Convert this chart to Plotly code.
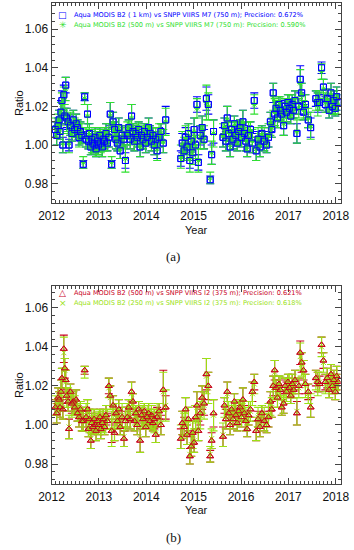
import plotly.graph_objects as go

# ---------------- data ----------------
years = [
    2012.08, 2012.11, 2012.14, 2012.16, 2012.18, 2012.20, 2012.22, 2012.24, 2012.26, 2012.28, 2012.30, 2012.32, 2012.35, 2012.37, 2012.40, 2012.43,
    2012.46, 2012.49, 2012.52, 2012.55, 2012.58, 2012.61, 2012.64, 2012.67, 2012.70, 2012.73,
    2012.76, 2012.78, 2012.80, 2012.83, 2012.85, 2012.87, 2012.90, 2012.92, 2012.94, 2012.97, 2012.99, 2013.02, 2013.04, 2013.07, 2013.09, 2013.12, 2013.15, 2013.18,
    2013.21, 2013.24, 2013.27, 2013.30, 2013.33, 2013.36, 2013.39, 2013.42, 2013.45, 2013.49, 2013.53, 2013.56,
    2013.60, 2013.63, 2013.66, 2013.69, 2013.72, 2013.75, 2013.78, 2013.81, 2013.84, 2013.87, 2013.90, 2013.93, 2013.96, 2013.99, 2014.02, 2014.05, 2014.08, 2014.11, 2014.14, 2014.17, 2014.20, 2014.23, 2014.27, 2014.31, 2014.36, 2014.41,
    2014.73, 2014.76, 2014.80, 2014.83, 2014.86, 2014.89, 2014.92, 2014.95, 2014.98, 2015.01, 2015.04, 2015.07, 2015.10, 2015.14, 2015.18, 2015.22, 2015.27, 2015.31, 2015.35, 2015.38, 2015.42,
    2015.62, 2015.65, 2015.68, 2015.71, 2015.74, 2015.77, 2015.80, 2015.83, 2015.86, 2015.89, 2015.92, 2015.95, 2015.98, 2016.01, 2016.04, 2016.07, 2016.10, 2016.13, 2016.16, 2016.20, 2016.24, 2016.28, 2016.32, 2016.36, 2016.40, 2016.44, 2016.49, 2016.54, 2016.58,
    2016.62, 2016.65, 2016.68, 2016.71, 2016.74, 2016.77, 2016.80, 2016.83, 2016.86, 2016.90, 2016.93, 2016.96, 2016.99, 2017.02, 2017.05, 2017.08, 2017.11, 2017.14, 2017.18, 2017.22, 2017.25, 2017.28, 2017.32, 2017.36, 2017.42, 2017.47,
    2017.58, 2017.62, 2017.66, 2017.70, 2017.74, 2017.78, 2017.82, 2017.86, 2017.90, 2017.93, 2017.96, 2017.99, 2018.02, 2018.05,
]

# (a) Aqua MODIS B2 (1 km) vs SNPP VIIRS M7
ratio_m7_1km = [
    1.008, 1.005, 1.010, 1.013, 1.007, 1.017, 1.023, 1.000, 1.026, 1.015, 1.031, 1.014, 1.012, 1.000, 1.010, 1.006,
    1.013, 1.008, 1.011, 1.009, 1.004, 1.007, 1.005, 0.990, 1.025, 1.003,
    1.016, 1.002, 1.006, 0.999, 1.003, 1.001, 1.000, 1.004, 0.998, 1.002, 1.000, 1.005, 1.001, 0.999, 1.003, 1.002, 1.006, 1.001,
    1.004, 1.016, 0.990, 1.012, 1.008, 1.003, 1.001, 1.009, 0.997, 1.005, 1.003, 0.992,
    1.005, 1.009, 1.003, 1.015, 1.007, 1.002, 1.006, 1.004, 1.008, 0.999, 1.005, 1.003, 1.007, 1.001, 1.004, 1.009, 1.006, 1.002, 1.005, 1.000, 1.003, 0.997, 1.004, 1.007, 1.001, 1.013,
    0.993, 1.001, 0.997, 1.004, 0.999, 1.006, 0.992, 1.002, 0.996, 1.008, 1.000, 1.021, 0.991, 1.005, 1.009, 1.003, 1.024, 1.021, 0.982, 0.995, 1.007,
    1.004, 1.010, 1.002, 1.014, 1.006, 0.999, 1.008, 1.003, 1.011, 1.005, 1.001, 1.007, 1.009, 1.004, 1.012, 1.006, 1.002, 0.998, 1.005, 1.008, 1.001, 1.023, 0.997, 1.003, 0.999, 1.006, 1.002, 1.000, 1.004,
    1.012, 1.008, 1.027, 1.016, 1.019, 1.014, 1.021, 1.018, 1.016, 1.010, 1.020, 1.017, 1.022, 1.019, 1.015, 1.021, 1.018, 1.023, 1.006, 1.020, 1.034, 1.027, 1.017, 1.021, 1.013, 1.009,
    1.024, 1.022, 1.022, 1.040, 1.030, 1.021, 1.024, 1.018, 1.027, 1.020, 1.023, 1.019, 1.025, 1.022,
]
err_m7_1km = [
    0.004, 0.005, 0.004, 0.005, 0.004, 0.006, 0.005, 0.004, 0.005, 0.004, 0.004, 0.005, 0.004, 0.003, 0.005, 0.004,
    0.005, 0.004, 0.005, 0.004, 0.004, 0.005, 0.004, 0.002, 0.002, 0.004,
    0.005, 0.004, 0.005, 0.004, 0.004, 0.005, 0.004, 0.005, 0.004, 0.004, 0.005, 0.004, 0.004, 0.005, 0.004, 0.004, 0.005, 0.004,
    0.005, 0.006, 0.002, 0.005, 0.004, 0.005, 0.004, 0.005, 0.004, 0.005, 0.004, 0.004,
    0.005, 0.004, 0.005, 0.006, 0.004, 0.005, 0.004, 0.005, 0.004, 0.005, 0.004, 0.005, 0.004, 0.005, 0.004, 0.005, 0.004, 0.005, 0.004, 0.005, 0.004, 0.004, 0.005, 0.004, 0.005, 0.007,
    0.004, 0.005, 0.004, 0.005, 0.004, 0.005, 0.004, 0.005, 0.004, 0.006, 0.005, 0.004, 0.004, 0.005, 0.006, 0.005, 0.006, 0.005, 0.002, 0.005, 0.006,
    0.005, 0.004, 0.005, 0.006, 0.004, 0.005, 0.004, 0.005, 0.004, 0.005, 0.004, 0.005, 0.004, 0.005, 0.006, 0.004, 0.005, 0.004, 0.005, 0.004, 0.005, 0.004, 0.005, 0.004, 0.005, 0.004, 0.005, 0.004, 0.005,
    0.005, 0.004, 0.005, 0.006, 0.004, 0.005, 0.004, 0.005, 0.004, 0.005, 0.004, 0.005, 0.004, 0.005, 0.004, 0.005, 0.004, 0.005, 0.005, 0.004, 0.007, 0.005, 0.004, 0.005, 0.004, 0.005,
    0.004, 0.005, 0.004, 0.003, 0.004, 0.004, 0.005, 0.004, 0.005, 0.004, 0.005, 0.004, 0.005, 0.004,
]

# (a) Aqua MODIS B2 (500 m) vs SNPP VIIRS M7
ratio_m7_500m = [
    1.009, 1.006, 1.011, 1.012, 1.008, 1.016, 1.021, 1.001, 1.024, 1.016, 1.029, 1.013, 1.011, 1.001, 1.011, 1.007,
    1.012, 1.009, 1.010, 1.008, 1.005, 1.006, 1.006, 0.991, 1.024, 1.004,
    1.015, 1.003, 1.005, 1.000, 1.002, 1.002, 1.001, 1.003, 0.999, 1.001, 1.001, 1.004, 1.002, 1.000, 1.002, 1.003, 1.005, 1.002,
    1.005, 1.015, 0.991, 1.011, 1.007, 1.004, 1.002, 1.008, 0.998, 1.004, 1.004, 0.993,
    1.006, 1.008, 1.004, 1.014, 1.006, 1.003, 1.005, 1.005, 1.007, 1.000, 1.004, 1.004, 1.006, 1.002, 1.005, 1.008, 1.005, 1.003, 1.004, 1.001, 1.004, 0.998, 1.005, 1.006, 1.002, 1.012,
    0.994, 1.000, 0.998, 1.003, 0.998, 1.005, 0.993, 1.001, 0.997, 1.007, 0.999, 1.019, 0.992, 1.004, 1.008, 1.004, 1.022, 1.020, 0.983, 0.996, 1.006,
    1.005, 1.009, 1.003, 1.013, 1.007, 1.000, 1.007, 1.004, 1.010, 1.006, 1.002, 1.006, 1.008, 1.005, 1.011, 1.007, 1.003, 0.999, 1.006, 1.007, 1.002, 1.021, 0.998, 1.004, 1.000, 1.005, 1.003, 1.001, 1.005,
    1.011, 1.009, 1.025, 1.017, 1.018, 1.015, 1.020, 1.019, 1.017, 1.011, 1.019, 1.018, 1.021, 1.020, 1.016, 1.020, 1.019, 1.022, 1.007, 1.019, 1.032, 1.026, 1.018, 1.020, 1.014, 1.010,
    1.023, 1.021, 1.023, 1.038, 1.029, 1.022, 1.023, 1.019, 1.026, 1.021, 1.022, 1.020, 1.024, 1.021,
]
err_m7_500m = [
    0.005, 0.006, 0.005, 0.006, 0.005, 0.006, 0.006, 0.005, 0.006, 0.005, 0.006, 0.006, 0.005, 0.005, 0.006, 0.005,
    0.006, 0.005, 0.006, 0.005, 0.006, 0.006, 0.005, 0.003, 0.003, 0.005,
    0.006, 0.005, 0.006, 0.005, 0.006, 0.006, 0.005, 0.006, 0.005, 0.006, 0.006, 0.005, 0.006, 0.006, 0.005, 0.006, 0.006, 0.005,
    0.006, 0.007, 0.003, 0.006, 0.005, 0.006, 0.005, 0.006, 0.005, 0.006, 0.005, 0.007,
    0.006, 0.005, 0.006, 0.007, 0.005, 0.006, 0.005, 0.006, 0.005, 0.006, 0.005, 0.006, 0.005, 0.006, 0.005, 0.006, 0.005, 0.006, 0.005, 0.006, 0.005, 0.006, 0.006, 0.005, 0.006, 0.007,
    0.006, 0.007, 0.006, 0.007, 0.006, 0.006, 0.007, 0.006, 0.007, 0.007, 0.006, 0.005, 0.006, 0.006, 0.007, 0.006, 0.009, 0.007, 0.003, 0.006, 0.007,
    0.006, 0.005, 0.006, 0.007, 0.005, 0.006, 0.005, 0.006, 0.005, 0.006, 0.005, 0.006, 0.005, 0.006, 0.007, 0.005, 0.006, 0.005, 0.006, 0.005, 0.006, 0.005, 0.006, 0.005, 0.006, 0.005, 0.006, 0.005, 0.006,
    0.006, 0.005, 0.007, 0.007, 0.005, 0.006, 0.005, 0.006, 0.005, 0.006, 0.005, 0.006, 0.005, 0.006, 0.005, 0.006, 0.005, 0.006, 0.006, 0.005, 0.007, 0.006, 0.005, 0.006, 0.005, 0.007,
    0.005, 0.006, 0.005, 0.004, 0.005, 0.005, 0.006, 0.005, 0.006, 0.005, 0.006, 0.005, 0.006, 0.005,
]

# (b) Aqua MODIS B2 (500 m) vs SNPP VIIRS I2
ratio_i2_500m = [
    1.009, 1.006, 1.014, 1.013, 1.009, 1.017, 1.024, 1.008, 1.039, 1.029, 1.023, 1.015, 1.012, 0.998, 1.017, 1.011,
    1.012, 1.009, 1.013, 1.006, 1.004, 1.008, 1.002, 1.002, 1.028, 1.004,
    1.008, 0.998, 1.003, 0.992, 1.001, 0.999, 1.003, 1.000, 0.997, 1.002, 1.000, 1.004, 0.998, 1.001, 1.003, 0.999, 1.005, 1.002,
    1.020, 1.015, 0.997, 1.010, 0.996, 1.006, 1.002, 1.008, 0.999, 1.004, 0.993, 1.002,
    1.004, 1.009, 1.003, 1.017, 1.012, 1.002, 1.006, 1.000, 1.008, 0.992, 1.005, 1.003, 1.007, 0.999, 1.004, 1.006, 1.002, 1.005, 1.001, 1.003, 0.995, 1.004, 1.007, 1.000, 1.018, 1.009,
    0.993, 1.001, 0.999, 1.008, 0.995, 1.003, 0.984, 0.989, 0.996, 0.991, 1.004, 1.010, 0.997, 1.006, 1.014, 1.011, 1.026, 1.020, 0.984, 0.992, 1.006,
    0.994, 1.010, 1.003, 1.017, 1.006, 1.000, 1.008, 1.003, 1.012, 1.005, 1.001, 1.007, 1.009, 1.004, 1.013, 1.006, 1.002, 0.998, 1.005, 1.008, 1.017, 1.022, 0.997, 1.003, 0.999, 1.006, 1.002, 1.000, 1.004,
    1.012, 1.008, 1.020, 1.028, 1.019, 1.014, 1.021, 1.018, 1.009, 1.011, 1.020, 1.017, 1.022, 1.019, 1.015, 1.021, 1.018, 1.023, 1.006, 1.020, 1.037, 1.032, 1.028, 1.021, 1.017, 1.009,
    1.024, 1.022, 1.021, 1.041, 1.033, 1.022, 1.024, 1.018, 1.026, 1.020, 1.023, 1.017, 1.025, 1.022,
]
err_i2_500m = [
    0.004, 0.005, 0.005, 0.004, 0.005, 0.006, 0.005, 0.005, 0.007, 0.005, 0.005, 0.004, 0.005, 0.005, 0.004, 0.005,
    0.005, 0.004, 0.005, 0.004, 0.005, 0.004, 0.005, 0.005, 0.002, 0.005,
    0.005, 0.004, 0.005, 0.004, 0.005, 0.004, 0.005, 0.004, 0.005, 0.004, 0.005, 0.004, 0.005, 0.004, 0.005, 0.004, 0.005, 0.004,
    0.004, 0.005, 0.006, 0.005, 0.004, 0.005, 0.004, 0.005, 0.004, 0.005, 0.004, 0.005,
    0.005, 0.004, 0.005, 0.005, 0.004, 0.005, 0.004, 0.005, 0.004, 0.006, 0.004, 0.005, 0.004, 0.005, 0.004, 0.005, 0.004, 0.005, 0.004, 0.005, 0.004, 0.005, 0.004, 0.005, 0.010, 0.006,
    0.005, 0.006, 0.005, 0.006, 0.005, 0.006, 0.004, 0.005, 0.006, 0.005, 0.006, 0.007, 0.005, 0.006, 0.006, 0.006, 0.008, 0.007, 0.003, 0.004, 0.007,
    0.005, 0.004, 0.005, 0.005, 0.004, 0.005, 0.004, 0.005, 0.004, 0.005, 0.004, 0.005, 0.004, 0.005, 0.006, 0.004, 0.005, 0.004, 0.005, 0.004, 0.005, 0.004, 0.005, 0.004, 0.005, 0.004, 0.005, 0.004, 0.005,
    0.005, 0.004, 0.005, 0.005, 0.004, 0.005, 0.004, 0.005, 0.004, 0.005, 0.004, 0.005, 0.004, 0.005, 0.004, 0.005, 0.004, 0.005, 0.006, 0.004, 0.006, 0.005, 0.005, 0.005, 0.004, 0.005,
    0.004, 0.005, 0.004, 0.004, 0.004, 0.004, 0.005, 0.004, 0.005, 0.004, 0.005, 0.004, 0.005, 0.004,
]

# (b) Aqua MODIS B2 (250 m) vs SNPP VIIRS I2
ratio_i2_250m = [
    1.010, 1.007, 1.013, 1.012, 1.010, 1.016, 1.023, 1.009, 1.037, 1.028, 1.022, 1.014, 1.013, 0.999, 1.016, 1.010,
    1.011, 1.010, 1.012, 1.007, 1.005, 1.007, 1.003, 1.003, 1.027, 1.005,
    1.007, 0.999, 1.002, 0.993, 1.002, 1.000, 1.002, 1.001, 0.998, 1.001, 1.001, 1.003, 0.999, 1.002, 1.002, 1.000, 1.004, 1.003,
    1.019, 1.014, 0.998, 1.009, 0.997, 1.005, 1.003, 1.007, 1.000, 1.005, 0.994, 1.003,
    1.005, 1.008, 1.004, 1.016, 1.011, 1.003, 1.005, 1.001, 1.007, 0.993, 1.004, 1.004, 1.006, 1.000, 1.005, 1.005, 1.003, 1.004, 1.002, 1.002, 0.996, 1.005, 1.006, 1.001, 1.017, 1.010,
    0.994, 1.000, 1.000, 1.007, 0.996, 1.002, 0.985, 0.990, 0.995, 0.992, 1.003, 1.009, 0.998, 1.005, 1.013, 1.010, 1.025, 1.019, 0.985, 0.993, 1.005,
    0.995, 1.009, 1.004, 1.016, 1.007, 1.001, 1.007, 1.004, 1.011, 1.006, 1.002, 1.006, 1.008, 1.005, 1.012, 1.007, 1.003, 0.999, 1.006, 1.007, 1.016, 1.021, 0.998, 1.004, 1.000, 1.005, 1.003, 1.001, 1.005,
    1.011, 1.009, 1.019, 1.027, 1.018, 1.015, 1.020, 1.019, 1.010, 1.012, 1.019, 1.018, 1.021, 1.020, 1.016, 1.020, 1.019, 1.022, 1.007, 1.019, 1.035, 1.031, 1.027, 1.020, 1.016, 1.010,
    1.023, 1.021, 1.022, 1.040, 1.032, 1.021, 1.023, 1.019, 1.025, 1.021, 1.022, 1.018, 1.024, 1.021,
]
err_i2_250m = [
    0.005, 0.006, 0.006, 0.005, 0.006, 0.007, 0.006, 0.006, 0.008, 0.006, 0.006, 0.005, 0.006, 0.006, 0.005, 0.006,
    0.006, 0.005, 0.006, 0.005, 0.006, 0.005, 0.006, 0.006, 0.003, 0.006,
    0.006, 0.005, 0.006, 0.005, 0.006, 0.005, 0.006, 0.005, 0.006, 0.005, 0.006, 0.005, 0.006, 0.005, 0.006, 0.005, 0.006, 0.005,
    0.005, 0.006, 0.009, 0.006, 0.005, 0.006, 0.005, 0.006, 0.005, 0.006, 0.005, 0.006,
    0.006, 0.005, 0.006, 0.006, 0.005, 0.006, 0.005, 0.006, 0.005, 0.007, 0.005, 0.006, 0.005, 0.006, 0.005, 0.006, 0.005, 0.006, 0.005, 0.006, 0.005, 0.006, 0.005, 0.006, 0.010, 0.008,
    0.006, 0.007, 0.006, 0.007, 0.006, 0.007, 0.005, 0.006, 0.007, 0.006, 0.007, 0.008, 0.006, 0.007, 0.007, 0.007, 0.009, 0.008, 0.004, 0.005, 0.008,
    0.006, 0.005, 0.006, 0.006, 0.005, 0.006, 0.005, 0.006, 0.005, 0.006, 0.005, 0.006, 0.005, 0.006, 0.007, 0.005, 0.006, 0.005, 0.006, 0.005, 0.006, 0.005, 0.006, 0.005, 0.006, 0.005, 0.006, 0.005, 0.006,
    0.006, 0.005, 0.006, 0.006, 0.005, 0.006, 0.005, 0.006, 0.005, 0.006, 0.005, 0.006, 0.005, 0.006, 0.005, 0.006, 0.005, 0.006, 0.007, 0.005, 0.007, 0.006, 0.006, 0.006, 0.005, 0.006,
    0.005, 0.006, 0.005, 0.005, 0.005, 0.005, 0.006, 0.005, 0.006, 0.005, 0.006, 0.005, 0.006, 0.005,
]

year_ticks = [2012, 2013, 2014, 2015, 2016, 2017, 2018]
ratio_ticks = [0.98, 1.00, 1.02, 1.04, 1.06]

legend_a = ["Aqua MODIS B2 ( 1 km) vs SNPP VIIRS M7 (750 m); Precision: 0.672%",
            "Aqua MODIS B2 (500 m) vs SNPP VIIRS M7 (750 m): Precision: 0.590%"]
legend_b = ["Aqua MODIS B2 (500 m) vs SNPP VIIRS I2 (375 m); Precision: 0.621%",
            "Aqua MODIS B2 (250 m) vs SNPP VIIRS I2 (375 m): Precision: 0.618%"]

for arr in [ratio_m7_1km, err_m7_1km, ratio_m7_500m, err_m7_500m,
            ratio_i2_500m, err_i2_500m, ratio_i2_250m, err_i2_250m]:
    assert len(arr) == len(years), len(arr)

# ---------------- styling ----------------
W, H = 354, 550
BLUE = "#0000ff"
GREEN = "#2fe02f"
RED = "#c8001e"
YGREEN = "#9ae214"

def px_x(x):
    return x / W

def px_y(y):
    return 1 - y / H

fig = go.Figure()

def add_series(xa, ya, y, err, color, symbol, size, errors=True, lw=1.0):
    fig.add_trace(go.Scatter(
        x=years, y=y, mode="markers", xaxis=xa, yaxis=ya, showlegend=False,
        marker=dict(symbol=symbol, size=size, color=color,
                    line=dict(color=color, width=lw)),
        error_y=dict(type="data", array=err, visible=errors, color=color,
                     thickness=1.1, width=4),
        hoverinfo="skip",
    ))

# panel (a)
add_series("x", "y", ratio_m7_1km, err_m7_1km, BLUE, "square-open", 6)
add_series("x", "y", ratio_m7_500m, err_m7_500m, GREEN, "asterisk-open", 5)
add_series("x", "y", ratio_m7_1km, err_m7_1km, BLUE, "square-open", 6, errors=False)
# panel (b)
add_series("x2", "y2", ratio_i2_500m, err_i2_500m, RED, "triangle-up-open", 6)
add_series("x2", "y2", ratio_i2_250m, err_i2_250m, YGREEN, "x-thin-open", 5)
add_series("x2", "y2", ratio_i2_500m, err_i2_500m, RED, "triangle-up-open", 6, errors=False)

AX = "#444444"
xdom = [px_x(51.5), px_x(340.5)]

def xaxis(anchor):
    return dict(domain=xdom, range=[2012, 2018.1], anchor=anchor, automargin=False,
                tickvals=year_ticks, ticktext=[str(v) for v in year_ticks],
                ticks="inside", ticklen=6, tickwidth=1, tickcolor=AX,
                minor=dict(dtick=1/12, tick0=2012, ticks="inside", ticklen=3, tickcolor=AX, tickwidth=1),
                showline=True, linecolor=AX, linewidth=1, mirror="ticks",
                showgrid=False, zeroline=False, ticklabelstandoff=2,
                tickfont=dict(family="Liberation Sans, Arial", size=12, color="#111"))

def yaxis(anchor, dom, rng):
    return dict(domain=dom, range=rng, anchor=anchor, automargin=False,
                tickvals=ratio_ticks, ticktext=["%.2f" % v for v in ratio_ticks],
                ticks="inside", ticklen=6, tickwidth=1, tickcolor=AX,
                minor=dict(dtick=0.004, tick0=0.98, ticks="inside", ticklen=3, tickcolor=AX, tickwidth=1),
                showline=True, linecolor=AX, linewidth=1, mirror="ticks",
                showgrid=False, zeroline=False,
                tickfont=dict(family="Liberation Sans, Arial", size=12, color="#111"))

fig.update_layout(
    width=W, height=H, autosize=False,
    margin=dict(l=0, r=0, t=0, b=0, autoexpand=False),
    paper_bgcolor="white", plot_bgcolor="white",
    showlegend=False,
    xaxis=xaxis("y"),
    yaxis=yaxis("x", [px_y(203), px_y(3)], [0.97, 1.0735]),
    xaxis2=xaxis("y2"),
    yaxis2=yaxis("x2", [px_y(483.6), px_y(285.7)], [0.97, 1.0713]),
)

ann = []
LF = dict(family="DejaVu Sans", size=6.6)

def legend_line(symbol_char, text, color, ypix):
    ann.append(dict(x=px_x(62.5), y=px_y(ypix), xref="paper", yref="paper", text=symbol_char,
                    showarrow=False, xanchor="center", yanchor="middle",
                    font=dict(family="DejaVu Sans", size=9, color=color)))
    ann.append(dict(x=px_x(71.5), y=px_y(ypix), xref="paper", yref="paper", text=text,
                    showarrow=False, xanchor="left", yanchor="middle",
                    font=dict(color=color, **LF)))

legend_line("□", legend_a[0], BLUE, 14.5)
legend_line("✳", legend_a[1], GREEN, 25)
legend_line("△", legend_b[0], RED, 293.3)
legend_line("×", legend_b[1], YGREEN, 303.5)

TF = dict(family="Liberation Sans, Arial", size=11, color="#111")
for ypix_year, ypix_ratio, ypix_lab, lab in [(230, 103, 256.7, "(a)"), (510.3, 385, 537.3, "(b)")]:
    ann.append(dict(x=px_x(196), y=px_y(ypix_year), xref="paper", yref="paper", text="Year",
                    showarrow=False, xanchor="center", yanchor="middle", font=TF))
    ann.append(dict(x=px_x(19), y=px_y(ypix_ratio), xref="paper", yref="paper", text="Ratio",
                    showarrow=False, xanchor="center", yanchor="middle", textangle=-90, font=TF))
    ann.append(dict(x=px_x(173), y=px_y(ypix_lab), xref="paper", yref="paper", text=lab,
                    showarrow=False, xanchor="center", yanchor="middle",
                    font=dict(family="Liberation Serif, Times New Roman", size=13, color="#111")))

fig.update_layout(annotations=ann)
fig.write_html("out.html", config={"displayModeBar": False},
               post_script="document.body.style.margin='0';document.body.style.overflow='hidden';")
